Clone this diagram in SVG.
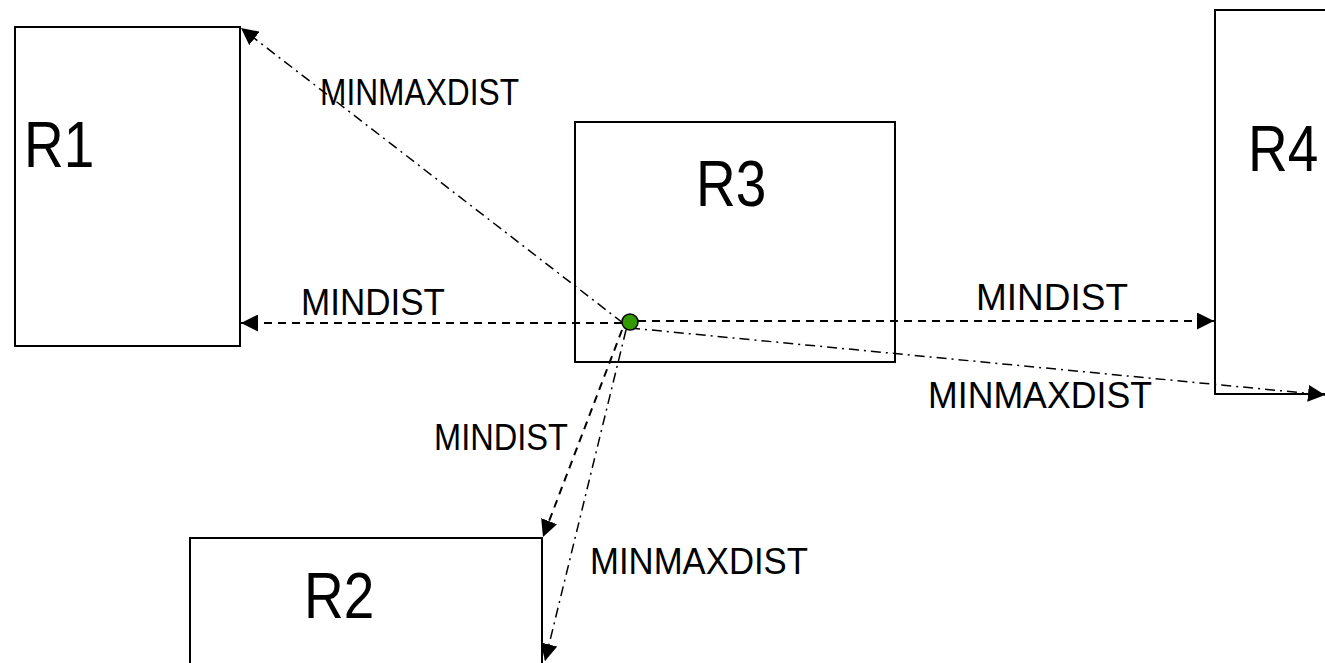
<svg xmlns="http://www.w3.org/2000/svg" width="1325" height="663" viewBox="0 0 1325 663">
  <style>
    .box { fill: #ffffff; stroke: #000000; stroke-width: 2; }
    .big { font-family: "Liberation Sans", Arial, sans-serif; font-size: 55px; fill: #000000; }
    .lbl { font-family: "Liberation Sans", Arial, sans-serif; font-size: 32px; fill: #000000; }
    .mindist { fill: none; stroke: #000000; stroke-width: 2; stroke-dasharray: 8 6; marker-end: url(#arrow); }
    .minmax { fill: none; stroke: #000000; stroke-width: 1.5; stroke-dasharray: 10 5 2 5; marker-end: url(#arrow); }
  </style>
  <defs>
    <marker id="arrow" viewBox="0 0 10 10" refX="10" refY="5" markerWidth="17" markerHeight="17" markerUnits="userSpaceOnUse" orient="auto">
      <path d="M0,0 L10,5 L0,10 Z" fill="#000000"/>
    </marker>
  </defs>
  <rect width="1325" height="663" fill="#ffffff"/>

  <!-- rectangles; text is drawn slightly taller than wide -->
  <g id="node-r1">
    <rect class="box" x="15" y="27" width="225" height="319"/>
    <text class="big" transform="translate(24,167) scale(1,1.18)">R1</text>
  </g>
  <g id="node-r3">
    <rect class="box" x="575" y="122" width="320" height="240"/>
    <text class="big" transform="translate(696,206) scale(1,1.18)">R3</text>
  </g>
  <g id="node-r4">
    <rect class="box" x="1215" y="10" width="130" height="384"/>
    <text class="big" transform="translate(1248,171) scale(1,1.18)">R4</text>
  </g>
  <g id="node-r2">
    <rect class="box" x="190" y="538" width="352" height="140"/>
    <text class="big" transform="translate(304,618) scale(1,1.18)">R2</text>
  </g>

  <g id="connectors">
    <line class="minmax" x1="623" y1="323" x2="241" y2="28"/>
    <line class="mindist" x1="622" y1="323" x2="241" y2="323"/>
    <line class="mindist" x1="638" y1="321" x2="1214" y2="321"/>
    <line class="minmax" x1="630" y1="328" x2="1325" y2="395"/>
    <line class="mindist" x1="622" y1="330" x2="543" y2="537"/>
    <line class="minmax" x1="626" y1="330" x2="545" y2="661"/>
  </g>

  <g id="labels">
    <text class="lbl" transform="translate(320,105) scale(1,1.18)" textLength="199" lengthAdjust="spacingAndGlyphs">MINMAXDIST</text>
    <text class="lbl" transform="translate(301,315) scale(1,1.18)" textLength="144" lengthAdjust="spacingAndGlyphs">MINDIST</text>
    <text class="lbl" transform="translate(976,310) scale(1,1.18)" textLength="152" lengthAdjust="spacingAndGlyphs">MINDIST</text>
    <text class="lbl" transform="translate(928,408) scale(1,1.18)" textLength="224" lengthAdjust="spacingAndGlyphs">MINMAXDIST</text>
    <text class="lbl" transform="translate(434,450) scale(1,1.18)" textLength="134" lengthAdjust="spacingAndGlyphs">MINDIST</text>
    <text class="lbl" transform="translate(590,574) scale(1,1.18)" textLength="218" lengthAdjust="spacingAndGlyphs">MINMAXDIST</text>
  </g>

  <g id="node-point">
    <circle cx="630" cy="322" r="8" fill="#339900" stroke="#000000" stroke-width="1.5"/>
  </g>
</svg>
